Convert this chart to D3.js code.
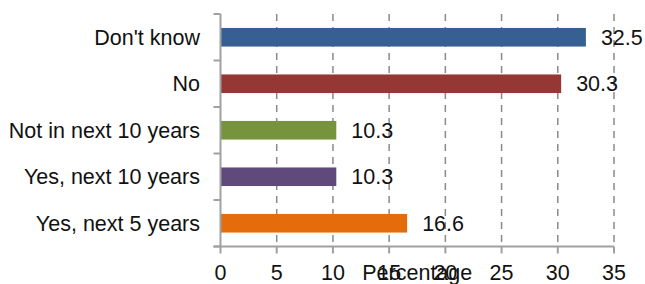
<!DOCTYPE html>
<html>
<head>
<meta charset="utf-8">
<script src="https://cdn.jsdelivr.net/npm/d3@7"></script>
<style>
  body { margin: 0; background: #fff; }
  text { font-family: "Liberation Sans", Arial, sans-serif; fill: #111; }
</style>
</head>
<body>
<div id="chart"></div>
<script>
// data, top to bottom
var categories = ["Don't know", "No", "Not in next 10 years", "Yes, next 10 years", "Yes, next 5 years"];
var values = [32.5, 30.3, 10.3, 10.3, 16.6];
var barColors = ["#376092", "#953735", "#77933c", "#604a7b", "#e46c0a"];
var xTicks = [0, 5, 10, 15, 20, 25, 30, 35];

var W = 645, H = 284;
var pLeft = 220.5, pRight = 614, pTop = 14, pBottom = 246.5;
var fs = 21.5;

var svg = d3.select("#chart").append("svg")
  .attr("width", W).attr("height", H);

var x = d3.scaleLinear().domain([0, 35]).range([pLeft, pRight]);
var y = d3.scaleBand().domain(categories).range([pTop, pBottom]).paddingInner(0.6).paddingOuter(0.3);

// dashed gridlines
svg.selectAll("line.grid")
  .data(xTicks.slice(1))
  .enter().append("line")
  .attr("class", "grid")
  .attr("x1", d => x(d)).attr("x2", d => x(d))
  .attr("y1", pTop).attr("y2", pBottom)
  .attr("stroke", "#8a8a8a")
  .attr("stroke-width", 1.5)
  .attr("stroke-dasharray", "7,6");

// bars
svg.selectAll("rect.bar")
  .data(values)
  .enter().append("rect")
  .attr("class", "bar")
  .attr("x", x(0))
  .attr("y", (d, i) => y(categories[i]))
  .attr("width", d => x(d) - x(0))
  .attr("height", y.bandwidth())
  .attr("fill", (d, i) => barColors[i]);

// value labels
svg.selectAll("text.val")
  .data(values)
  .enter().append("text")
  .attr("class", "val")
  .attr("x", d => x(d) + 15)
  .attr("y", (d, i) => y(categories[i]) + y.bandwidth() / 2)
  .attr("dy", "0.36em")
  .attr("font-size", fs)
  .text(d => d.toFixed(1));

// y axis
var yEdges = d3.range(categories.length + 1).map(i => pTop + i * (pBottom - pTop) / categories.length);
svg.append("line")
  .attr("x1", pLeft).attr("x2", pLeft)
  .attr("y1", pTop).attr("y2", pBottom)
  .attr("stroke", "#a0a0a0").attr("stroke-width", 2);
svg.selectAll("line.ytick")
  .data(yEdges)
  .enter().append("line")
  .attr("class", "ytick")
  .attr("x1", pLeft - 7).attr("x2", pLeft)
  .attr("y1", d => d).attr("y2", d => d)
  .attr("stroke", "#a0a0a0").attr("stroke-width", 2);
svg.selectAll("text.cat")
  .data(categories)
  .enter().append("text")
  .attr("class", "cat")
  .attr("x", 200)
  .attr("y", d => y(d) + y.bandwidth() / 2)
  .attr("dy", "0.36em")
  .attr("text-anchor", "end")
  .attr("font-size", fs)
  .text(d => d);

// x axis
svg.append("line")
  .attr("x1", pLeft - 7).attr("x2", pRight)
  .attr("y1", pBottom).attr("y2", pBottom)
  .attr("stroke", "#a0a0a0").attr("stroke-width", 2);
svg.selectAll("line.xtick")
  .data(xTicks)
  .enter().append("line")
  .attr("class", "xtick")
  .attr("x1", d => x(d)).attr("x2", d => x(d))
  .attr("y1", pBottom).attr("y2", pBottom + 7)
  .attr("stroke", "#a0a0a0").attr("stroke-width", 2);
svg.selectAll("text.xlab")
  .data(xTicks)
  .enter().append("text")
  .attr("class", "xlab")
  .attr("x", d => x(d))
  .attr("y", 280)
  .attr("text-anchor", "middle")
  .attr("font-size", fs)
  .text(d => d);

// axis title (overlaps tick labels, as in the original)
svg.append("text")
  .attr("x", (pLeft + pRight) / 2)
  .attr("y", 280)
  .attr("text-anchor", "middle")
  .attr("font-size", fs)
  .text("Percentage");
</script>
</body>
</html>
